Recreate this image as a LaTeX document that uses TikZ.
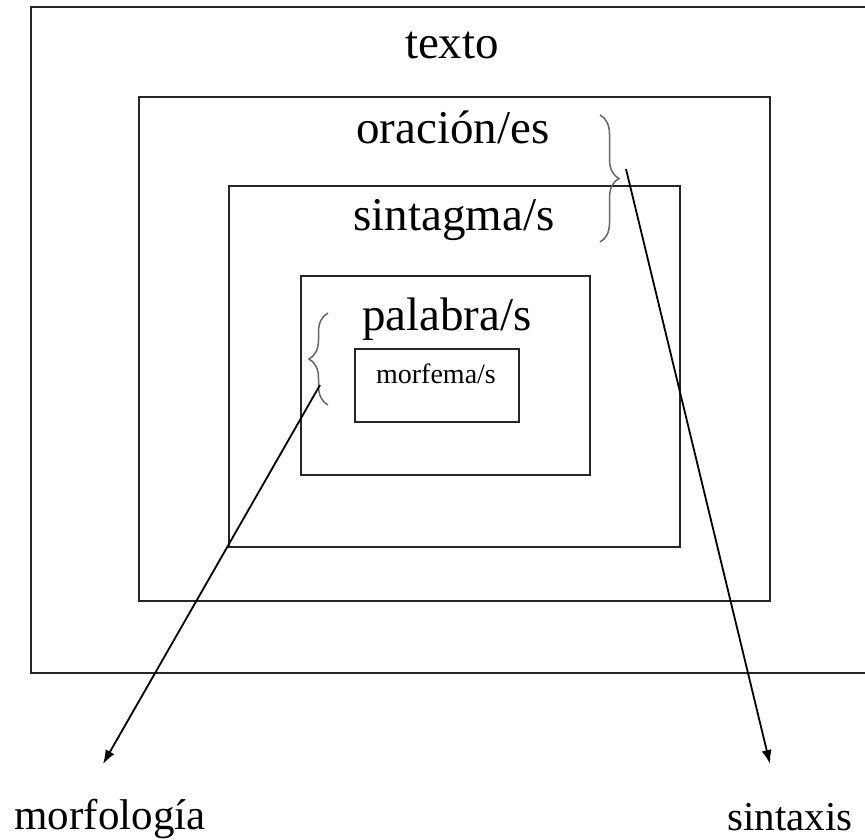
\documentclass[tikz,border=0pt]{standalone}
\usepackage{fontspec}
\setmainfont{Liberation Serif}
\usetikzlibrary{arrows.meta,decorations.pathreplacing}

\begin{document}
\begin{tikzpicture}[%
    x=1pt,y=-1pt,%
    box/.style={line width=2pt,draw=black!85},%
    level/.style={anchor=base,inner sep=0pt,font=\fontsize{47}{50}\selectfont},%
    curly/.style={decorate,decoration={brace,amplitude=19pt},line width=1.5pt,draw=black!60},%
    pointer/.style={line width=1.8pt,-{Latex[length=14pt,width=10pt]}}%
  ]
  \useasboundingbox (0,0) rectangle (865,839);%
  \clip (0,0) rectangle (865,839);%

  % Coordinates
  \coordinate (T1) at (31,7);%
  \coordinate (T2) at (885,673);%
  \coordinate (O1) at (139,97);%
  \coordinate (O2) at (770,601);%
  \coordinate (S1) at (229,186);%
  \coordinate (S2) at (680,547);%
  \coordinate (P1) at (301,276);%
  \coordinate (P2) at (590,475);%
  \coordinate (M1) at (355,349);%
  \coordinate (M2) at (519,422);%
  \coordinate (Bs1) at (600,115);%
  \coordinate (Bs2) at (600,242);%
  \coordinate (Bm1) at (328,405);%
  \coordinate (Bm2) at (328,313);%
  \coordinate (As) at (626,169);%
  \coordinate (AsEnd) at (770,764);%
  \coordinate (Am) at (320,385);%
  \coordinate (AmEnd) at (103,764);%

  % Boxes
  \draw[box] (T1) rectangle (T2);%
  \draw[box] (O1) rectangle (O2);%
  \draw[box] (S1) rectangle (S2);%
  \draw[box] (P1) rectangle (P2);%
  \draw[box] (M1) rectangle (M2);%

  % Nodes
  \node[level] (texto) at (452,58) {texto};%
  \node[level] (oracion) at (453,143) {oración/es};%
  \node[level] (sintagma) at (454,230) {sintagma/s};%
  \node[level] (palabra) at (447,330) {palabra/s};%
  \node[level,font=\fontsize{28}{30}\selectfont] (morfema) at (436,383) {morfema/s};%
  \node[level,font=\fontsize{43}{46}\selectfont] (morfologia) at (110,829) {morfología};%
  \node[level,font=\fontsize{41}{44}\selectfont] (sintaxis) at (790,830) {sintaxis};%

  % Braces
  \draw[curly] (Bs1) -- (Bs2);%
  \draw[curly] (Bm1) -- (Bm2);%

  % Arrows
  \draw[pointer] (As) -- (AsEnd);%
  \draw[pointer] (Am) -- (AmEnd);%
\end{tikzpicture}
\end{document}
